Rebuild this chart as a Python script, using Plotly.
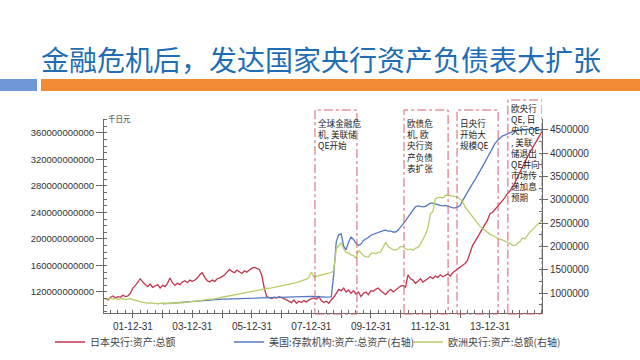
import plotly.graph_objects as go
import pandas as pd

# ---------------- data ----------------
# Bank of Japan total assets, unit: 1e9 thousand yen (monthly, 2001-01 .. 2015-09)
boj_assets = [
    110, 108, 112, 114, 111, 113, 112, 115, 113, 114, 118, 126,   # 2001
    130, 134, 140, 135, 131, 128, 132, 127, 129, 131, 126, 130,   # 2002
    128, 133, 141, 134, 130, 133, 131, 135, 137, 134, 138, 136,   # 2003
    138, 141, 146, 149, 142, 137, 135, 138, 136, 140, 141, 143,   # 2004
    146, 150, 154, 151, 149, 153, 150, 148, 152, 150, 153, 156,   # 2005
    157, 155, 154, 146, 126, 113, 112, 110, 112, 111, 113, 112,   # 2006
    110, 108, 106, 104, 108, 103, 106, 104, 107, 105, 108, 110,   # 2007
    111, 109, 113, 107, 104, 106, 103, 108, 112, 118, 124, 122,   # 2008
    126, 120, 123, 118, 122, 117, 120, 113, 118, 120, 116, 122,   # 2009
    121, 124, 126, 122, 119, 116, 121, 124, 120, 123, 126, 129,   # 2010
    130, 127, 146, 140, 138, 133, 136, 140, 135, 138, 141, 143,   # 2011
    140, 144, 142, 146, 143, 145, 147, 144, 149, 152, 155, 158,   # 2012
    160, 163, 168, 178, 190, 196, 203, 210, 215, 222, 228, 238,   # 2013
    240, 244, 248, 252, 258, 262, 268, 272, 278, 284, 292, 300,   # 2014
    306, 314, 322, 330, 336, 342, 350, 356, 362,                  # 2015
]

# US series (right axis), unit: thousand (monthly, 2002-12 .. 2015-09)
us_assets = [
    765,                                                            # 2002-12
    770, 775, 780, 785, 790, 795, 800, 805, 805, 810, 815, 820,     # 2003
    825, 830, 835, 840, 845, 850, 852, 855, 858, 860, 865, 870,     # 2004
    870, 872, 875, 878, 880, 882, 885, 887, 888, 890, 892, 895,     # 2005
    895, 897, 898, 900, 902, 905, 906, 908, 910, 912, 914, 916,     # 2006
    916, 915, 917, 918, 920, 921, 922, 924, 925, 926, 928, 930,     # 2007
    925, 920, 915, 912, 910, 910, 912, 915, 1400, 2100, 2250, 2270, # 2008
    2000, 1930, 2090, 2200, 2150, 2070, 2020, 2050, 2130, 2160, 2190, 2240,  # 2009
    2260, 2290, 2310, 2320, 2340, 2350, 2330, 2330, 2310, 2310, 2350, 2420,  # 2010
    2480, 2550, 2630, 2700, 2780, 2850, 2870, 2860, 2850, 2860, 2890, 2930,  # 2011
    2930, 2920, 2900, 2880, 2870, 2880, 2870, 2850, 2830, 2830, 2850, 2880,  # 2012
    2990, 3080, 3170, 3260, 3350, 3430, 3520, 3620, 3710, 3810, 3910, 4020,  # 2013
    4120, 4200, 4270, 4320, 4370, 4390, 4420, 4440, 4460, 4480, 4490, 4500,  # 2014
    4510, 4500, 4520, 4510, 4520, 4530, 4520, 4510, 4500,                    # 2015
]

# ECB total assets (right axis), unit: thousand (monthly, 2001-01 .. 2015-09)
ecb_assets = [
    850, 880, 890, 870, 885, 860, 875, 880, 860, 870, 880, 860,     # 2001
    850, 830, 810, 800, 790, 785, 790, 780, 775, 770, 775, 790,     # 2002
    780, 770, 775, 780, 790, 785, 795, 790, 800, 810, 805, 820,     # 2003
    820, 830, 840, 850, 845, 860, 870, 865, 880, 890, 900, 910,     # 2004
    920, 930, 940, 955, 960, 975, 990, 995, 1010, 1020, 1030, 1040, # 2005
    1050, 1060, 1070, 1080, 1090, 1095, 1105, 1110, 1120, 1125, 1135, 1150,  # 2006
    1160, 1170, 1185, 1195, 1210, 1225, 1240, 1260, 1280, 1300, 1330, 1450,  # 2007
    1340, 1360, 1380, 1390, 1400, 1410, 1430, 1440, 1480, 1950, 2020, 2075,  # 2008
    1950, 1870, 1860, 1820, 1800, 1750, 1920, 1860, 1800, 1780, 1770, 1850,  # 2009
    1860, 1840, 1870, 1880, 2000, 2090, 2000, 1960, 1930, 1920, 1950, 2000,  # 2010
    1990, 1950, 1930, 1940, 1920, 1960, 1980, 2050, 2150, 2250, 2400, 2700,  # 2011
    2750, 3020, 3050, 3060, 3040, 3090, 3100, 3090, 3080, 3070, 3060, 3010,  # 2012
    2960, 2850, 2780, 2730, 2650, 2570, 2500, 2430, 2390, 2350, 2300, 2260,  # 2013
    2240, 2210, 2180, 2150, 2140, 2120, 2090, 2060, 2030, 2020, 2060, 2100,  # 2014
    2180, 2160, 2220, 2300, 2350, 2400, 2450, 2510, 2570,                    # 2015
]

dates_main = pd.date_range("2001-01-31", periods=len(boj_assets), freq=pd.offsets.MonthEnd())
dates_us = pd.date_range("2002-12-31", periods=len(us_assets), freq=pd.offsets.MonthEnd())

series_names = ["日本央行:资产:总额", "美国:存款机构:资产:总资产(右轴)", "欧洲央行:资产:总额(右轴)"]

x_tick_dates = ["2001-12-31", "2002-12-31", "2003-12-31", "2004-12-31", "2005-12-31",
                "2006-12-31", "2007-12-31", "2008-12-31", "2009-12-31", "2010-12-31",
                "2011-12-31", "2012-12-31", "2013-12-31", "2014-12-31"]
x_tick_labels = ["01-12-31", "", "03-12-31", "", "05-12-31", "", "07-12-31", "",
                 "09-12-31", "", "11-12-31", "", "13-12-31", ""]
left_ticks = [120e9, 160e9, 200e9, 240e9, 280e9, 320e9, 360e9]
right_ticks = [1000000, 1500000, 2000000, 2500000, 3000000, 3500000, 4000000, 4500000]

# event boxes: start, end, text lines
event_starts = ["2008-02-13", "2011-02-10", "2012-11-22", "2014-08-08"]
event_ends = ["2009-07-12", "2012-08-04", "2014-04-10", "2015-10-01"]
event_texts = [
    ["全球金融危", "机, 美联储", "QE开始"],
    ["欧债危", "机, 欧", "央行资", "产负债", "表扩张"],
    ["日央行", "开始大", "规模QE"],
    ["欧央行", "QE, 日", "央行QE", ", 美联", "储退出", "QE并向", "市场传", "递加息", "预期"],
]

title_text = "金融危机后，发达国家央行资产负债表大扩张"

# ---------------- figure ----------------
W, H = 640, 360
ML, MR, MT, MB = 104, 98, 119, 47
PW, PH = W - ML - MR, H - MT - MB


def px_x(px):
    return (px - ML) / PW


def px_y(py):
    return (H - MB - py) / PH


fig = go.Figure()
fig.add_trace(go.Scatter(x=dates_main, y=[v * 1e9 for v in boj_assets], name=series_names[0],
                         mode="lines", line=dict(color="#c2364c", width=1.3), yaxis="y"))
fig.add_trace(go.Scatter(x=dates_us, y=[v * 1000 for v in us_assets], name=series_names[1],
                         mode="lines", line=dict(color="#5479c2", width=1.3), yaxis="y2"))
fig.add_trace(go.Scatter(x=dates_main, y=[v * 1000 for v in ecb_assets], name=series_names[2],
                         mode="lines", line=dict(color="#b9cc68", width=1.3), yaxis="y2"))

axis_color = "#6a6a6a"
tick_font = dict(family="Liberation Sans, Arial, sans-serif", size=10, color="#333")
cjk = "Noto Sans CJK SC"

shapes = []
annotations = []

# header bars
shapes.append(dict(type="rect", xref="paper", yref="paper", x0=px_x(0), x1=px_x(37),
                   y0=px_y(91), y1=px_y(79), line=dict(width=0), fillcolor="#7098d8"))
shapes.append(dict(type="rect", xref="paper", yref="paper", x0=px_x(41), x1=px_x(640),
                   y0=px_y(91), y1=px_y(79), line=dict(width=0), fillcolor="#f28a35"))

# event boxes
box_tops = [110, 110, 110, 100]
text_tops = [116, 116, 116, 101]
for i, (s, e, lines) in enumerate(zip(event_starts, event_ends, event_texts)):
    shapes.append(dict(type="rect", xref="x", yref="paper", x0=s, x1=e,
                       y0=px_y(314), y1=px_y(box_tops[i]),
                       line=dict(color="#d2606e", width=1, dash="dashdot"),
                       fillcolor="rgba(0,0,0,0)", layer="above"))
    annotations.append(dict(x=s, xref="x", y=px_y(text_tops[i]), yref="paper",
                            text="<br>".join(lines), showarrow=False, xanchor="left",
                            yanchor="top", align="left", xshift=2, borderpad=0,
                            font=dict(family=cjk, size=8.6, color="#222")))

# unit label
annotations.append(dict(x=0, xref="paper", y=px_y(118), yref="paper", text="千日元",
                        showarrow=False, xanchor="left", yanchor="middle", xshift=2,
                        font=dict(family=cjk, size=7.5, color="#333")))

fig.update_layout(
    width=W, height=H,
    margin=dict(l=ML, r=MR, t=MT, b=MB, pad=0, autoexpand=False),
    paper_bgcolor="white", plot_bgcolor="white",
    title=dict(text=title_text, xref="container", yref="container",
               x=41 / W, xanchor="left", y=1 - 61 / H, yanchor="middle",
               font=dict(family=cjk, size=28, color="#1f6db4")),
    showlegend=True,
    legend=dict(orientation="h", x=px_x(50), xanchor="left", y=px_y(342), yanchor="middle",
                font=dict(family=cjk, size=10, color="#444"),
                itemwidth=30, entrywidth=134, entrywidthmode="pixels",
                bgcolor="rgba(0,0,0,0)", borderwidth=0),
    xaxis=dict(type="date", range=["2001-01-10", "2015-10-01"], automargin=False,
               tickmode="array", tickvals=x_tick_dates, ticktext=x_tick_labels,
               ticks="outside", ticklen=4, tickcolor=axis_color, tickwidth=1,
               showline=True, linecolor=axis_color, linewidth=1,
               showgrid=False, zeroline=False, tickfont=tick_font,
               minor=dict(tickmode="linear", tick0="2001-03-31", dtick="M3",
                          ticks="inside", ticklen=3, tickcolor=axis_color, showgrid=False)),
    yaxis=dict(range=[88.3e9, 381e9], automargin=False,
               tickmode="array", tickvals=left_ticks, tickformat="d",
               ticks="outside", ticklen=7, tickcolor=axis_color,
               showline=True, linecolor=axis_color, linewidth=1,
               showgrid=False, zeroline=False,
               tickfont=dict(family="Liberation Sans, Arial, sans-serif", size=9.5, color="#333"),
               minor=dict(tickmode="linear", tick0=0, dtick=10e9, ticks="inside", ticklen=3,
                          tickcolor=axis_color, showgrid=False)),
    yaxis2=dict(range=[571000, 4736000], overlaying="y", side="right", automargin=False,
                tickmode="array", tickvals=right_ticks, tickformat="d",
                ticks="outside", ticklen=5, tickcolor=axis_color,
                showline=True, linecolor=axis_color, linewidth=1,
                showgrid=False, zeroline=False, tickfont=tick_font,
                minor=dict(tickmode="linear", tick0=0, dtick=250000, ticks="inside", ticklen=3,
                           tickcolor=axis_color, showgrid=False)),
    shapes=shapes,
    annotations=annotations,
)

fig.write_html("out.html", config={"displayModeBar": False},
               post_script="document.body.style.margin='0';document.body.style.padding='0';")
